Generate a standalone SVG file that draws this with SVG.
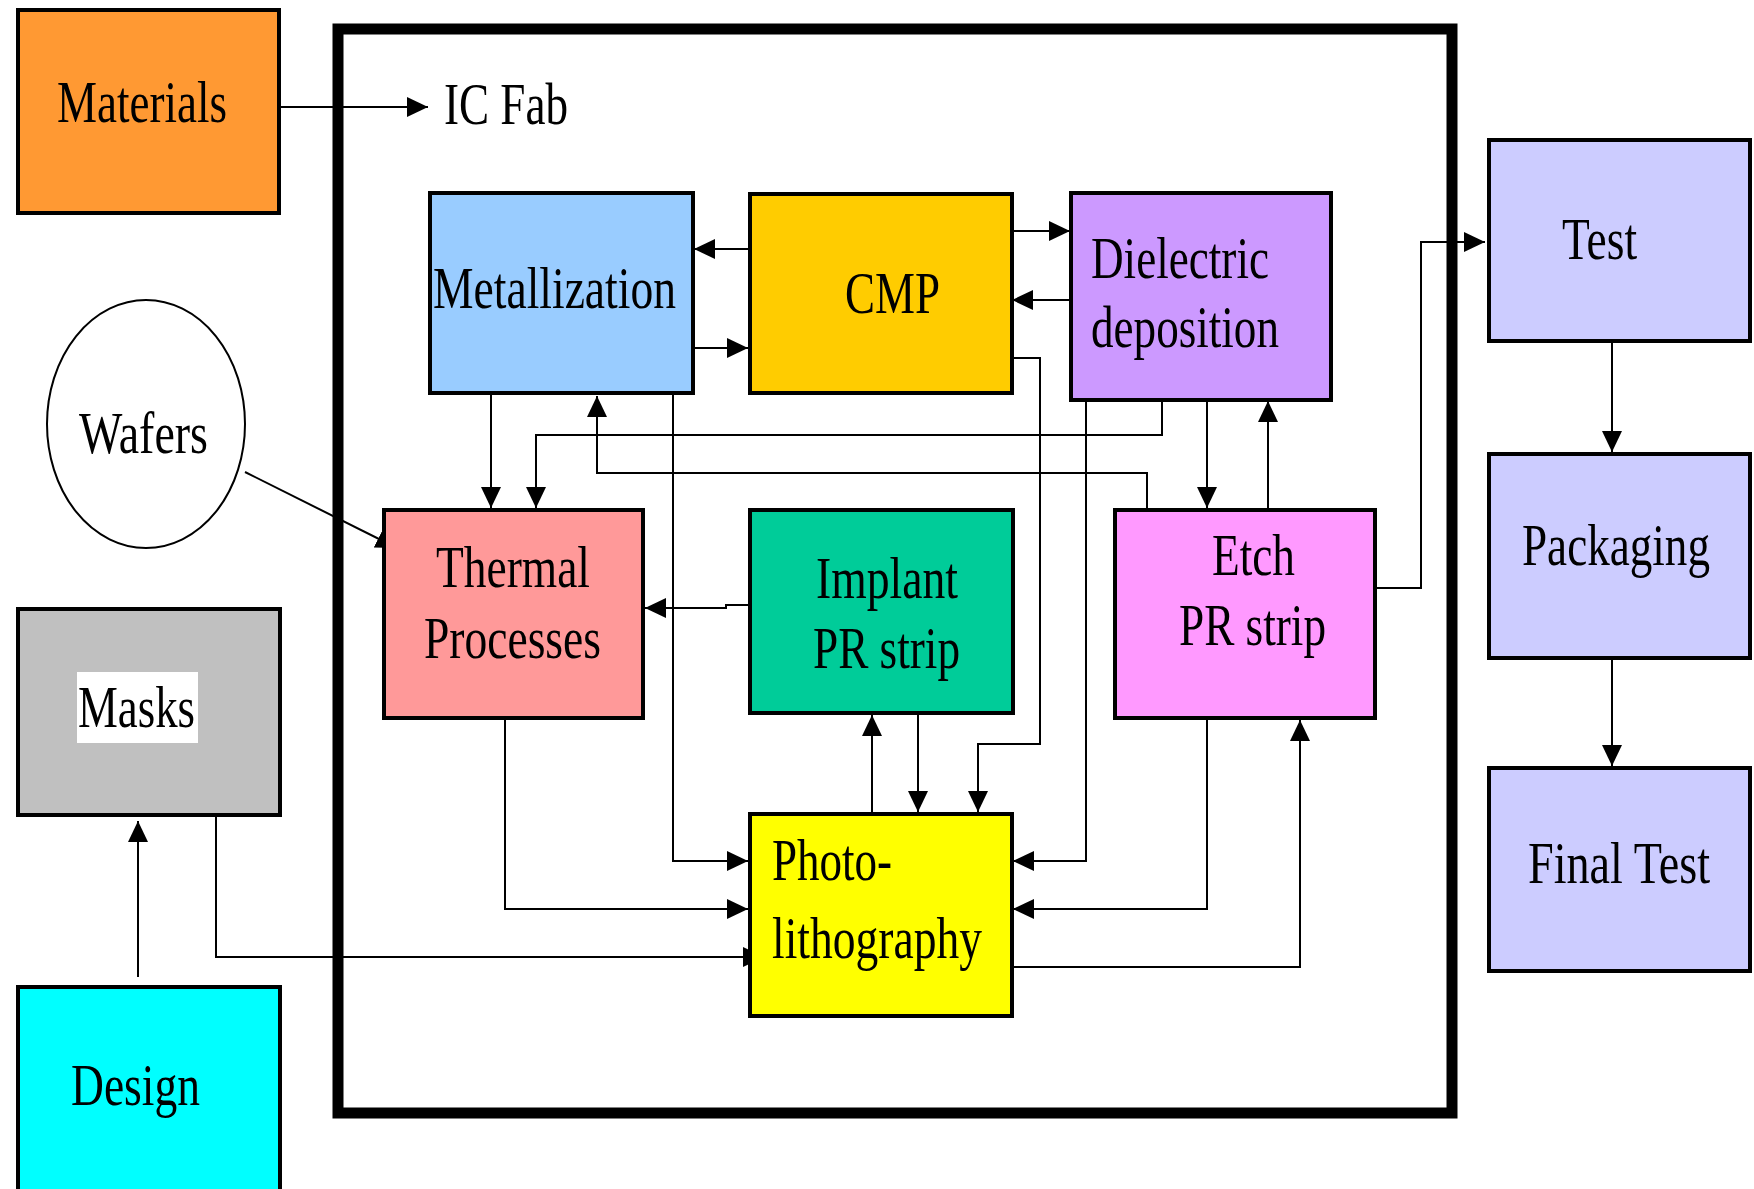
<svg xmlns="http://www.w3.org/2000/svg" width="1754" height="1189" viewBox="0 0 1754 1189">
<style>
.box{stroke:#000;stroke-width:4}
.lbl{font-family:"Liberation Serif","Times New Roman",serif;font-size:60px;fill:#000}
.c{fill:none;stroke:#000;stroke-width:2}
</style>
<defs>
<marker id="ah" markerUnits="userSpaceOnUse" markerWidth="22" markerHeight="22" refX="21" refY="11" orient="auto" viewBox="0 0 22 22">
<path d="M0,1 L21,11 L0,21 z" fill="#000"/>
</marker>
</defs>
<rect x="0" y="0" width="1754" height="1189" fill="#fff"/>
<g id="icfab-frame">
<rect x="338" y="29" width="1114" height="1084" fill="none" stroke="#000" stroke-width="11"/>
<text class="lbl" x="444" y="124" textLength="124" lengthAdjust="spacingAndGlyphs">IC Fab</text>
</g>
<g id="connectors">
<path class="c" marker-end="url(#ah)" d="M277,107 H428"/>
<path class="c" marker-end="url(#ah)" d="M748,249 H694"/>
<path class="c" marker-end="url(#ah)" d="M688,348 H748"/>
<path class="c" marker-end="url(#ah)" d="M1007,231 H1070"/>
<path class="c" marker-end="url(#ah)" d="M1070,300 H1012"/>
<path class="c" marker-end="url(#ah)" d="M1010,358 H1040 V744 H978 V812"/>
<path class="c" marker-end="url(#ah)" d="M491,395 V508"/>
<path class="c" marker-end="url(#ah)" d="M1162,400 V435 H536 V508"/>
<path class="c" marker-end="url(#ah)" d="M1147,508 V473 H597 V396"/>
<path class="c" marker-end="url(#ah)" d="M673,395 V861 H748"/>
<path class="c" marker-end="url(#ah)" d="M1086,400 V861 H1013"/>
<path class="c" marker-end="url(#ah)" d="M1207,400 V508"/>
<path class="c" marker-end="url(#ah)" d="M1268,508 V401"/>
<path class="c" marker-end="url(#ah)" d="M748,605 H726 V608 H645"/>
<path class="c" marker-end="url(#ah)" d="M918,715 V812"/>
<path class="c" marker-end="url(#ah)" d="M872,812 V715"/>
<path class="c" marker-end="url(#ah)" d="M505,720 V909 H748"/>
<path class="c" marker-end="url(#ah)" d="M1207,720 V909 H1013"/>
<path class="c" marker-end="url(#ah)" d="M1011,967 H1300 V720"/>
<path class="c" marker-end="url(#ah)" d="M216,802 V957 H764"/>
<path class="c" marker-end="url(#ah)" d="M138,977 V821"/>
<path class="c" marker-end="url(#ah)" d="M245,472 L397,548"/>
<path class="c" marker-end="url(#ah)" d="M1377,588 H1421 V242 H1485"/>
<path class="c" marker-end="url(#ah)" d="M1612,338 V452"/>
<path class="c" marker-end="url(#ah)" d="M1612,646 V766"/>
</g>
<g id="materials">
<rect class="box" x="18" y="10" width="261" height="203" fill="#FF9933"/>
<text class="lbl" x="57" y="122" textLength="170" lengthAdjust="spacingAndGlyphs">Materials</text>
</g>
<g id="metallization">
<rect class="box" x="430" y="193" width="263" height="200" fill="#99CCFF"/>
<text class="lbl" x="433" y="308" textLength="243" lengthAdjust="spacingAndGlyphs">Metallization</text>
</g>
<g id="cmp">
<rect class="box" x="750" y="194" width="262" height="199" fill="#FFCC00"/>
<text class="lbl" x="845" y="313" textLength="95" lengthAdjust="spacingAndGlyphs">CMP</text>
</g>
<g id="dielectric">
<rect class="box" x="1071" y="193" width="260" height="207" fill="#CC99FF"/>
<text class="lbl" x="1091" y="278" textLength="178" lengthAdjust="spacingAndGlyphs">Dielectric</text>
<text class="lbl" x="1091" y="347" textLength="188" lengthAdjust="spacingAndGlyphs">deposition</text>
</g>
<g id="wafers">
<ellipse cx="146" cy="424" rx="99" ry="124" fill="#fff" stroke="#000" stroke-width="2"/>
<text class="lbl" x="79" y="453" textLength="129" lengthAdjust="spacingAndGlyphs">Wafers</text>
</g>
<g id="thermal">
<rect class="box" x="384" y="510" width="259" height="208" fill="#FF9999"/>
<text class="lbl" x="436" y="587" textLength="154" lengthAdjust="spacingAndGlyphs">Thermal</text>
<text class="lbl" x="424" y="658" textLength="177" lengthAdjust="spacingAndGlyphs">Processes</text>
</g>
<g id="implant">
<rect class="box" x="750" y="510" width="263" height="203" fill="#00CC99"/>
<text class="lbl" x="816" y="598" textLength="142" lengthAdjust="spacingAndGlyphs">Implant</text>
<text class="lbl" x="813" y="668" textLength="147" lengthAdjust="spacingAndGlyphs">PR strip</text>
</g>
<g id="etch">
<rect class="box" x="1115" y="510" width="260" height="208" fill="#FF99FF"/>
<text class="lbl" x="1212" y="575" textLength="83" lengthAdjust="spacingAndGlyphs">Etch</text>
<text class="lbl" x="1179" y="645" textLength="147" lengthAdjust="spacingAndGlyphs">PR strip</text>
</g>
<g id="masks">
<rect class="box" x="18" y="609" width="262" height="206" fill="#C0C0C0"/>
<rect x="77" y="672" width="121" height="71" fill="#fff"/>
<text class="lbl" x="78" y="727" textLength="117" lengthAdjust="spacingAndGlyphs">Masks</text>
</g>
<g id="design">
<rect class="box" x="18" y="987" width="262" height="212" fill="#00FFFF"/>
<text class="lbl" x="71" y="1105" textLength="129" lengthAdjust="spacingAndGlyphs">Design</text>
</g>
<g id="photolithography">
<rect class="box" x="750" y="814" width="262" height="202" fill="#FFFF00"/>
<text class="lbl" x="772" y="880" textLength="120" lengthAdjust="spacingAndGlyphs">Photo-</text>
<text class="lbl" x="772" y="958" textLength="210" lengthAdjust="spacingAndGlyphs">lithography</text>
</g>
<g id="test">
<rect class="box" x="1489" y="140" width="261" height="201" fill="#CCCCFF"/>
<text class="lbl" x="1562" y="259" textLength="75" lengthAdjust="spacingAndGlyphs">Test</text>
</g>
<g id="packaging">
<rect class="box" x="1489" y="454" width="261" height="204" fill="#CCCCFF"/>
<text class="lbl" transform="translate(1522 565) scale(0.752 1)" x="0" y="0" textLength="250" lengthAdjust="spacingAndGlyphs">Packaging</text>
</g>
<g id="final-test">
<rect class="box" x="1489" y="768" width="261" height="203" fill="#CCCCFF"/>
<text class="lbl" transform="translate(1528 883) scale(0.752 1)" x="0" y="0" textLength="242" lengthAdjust="spacingAndGlyphs">Final Test</text>
</g>
</svg>
